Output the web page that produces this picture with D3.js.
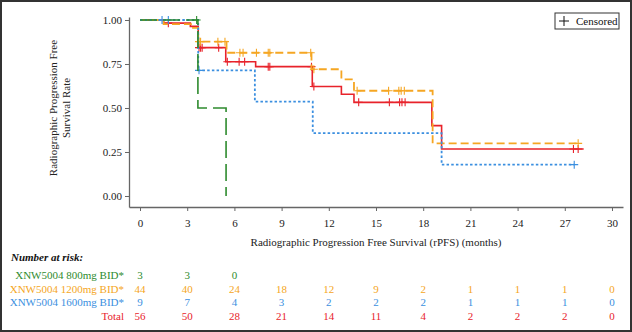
<!DOCTYPE html>
<html>
<head>
<meta charset="utf-8">
<script src="https://cdn.jsdelivr.net/npm/d3@7"></script>
<style>
  html, body { margin: 0; padding: 0; background: #fff; }
  svg { display: block; }
  svg text { font-family: "Liberation Serif", "Times New Roman", serif; }
</style>
</head>
<body>
<div id="km"></div>
<script>
// time grid (months) used for axis ticks and the at-risk table
const months = [0, 3, 6, 9, 12, 15, 18, 21, 24, 27, 30];
const yTicks = [0, 0.25, 0.5, 0.75, 1];

const groupNames = ["XNW5004 800mg BID*", "XNW5004 1200mg BID*", "XNW5004 1600mg BID*", "Total"];
const groupColors = ["#2e8b2e", "#f5a623", "#3b8fe0", "#e8232b"];

// KM steps: [month, survival] at each drop, last entry = end of follow-up
const steps800 = [[0, 1], [3.68, 0.5], [5.47, 0]];
const steps1200 = [[0, 1], [1.5, 0.977], [3.24, 0.955], [3.7, 0.877], [5.5, 0.814], [10.9, 0.72],
  [12.8, 0.663], [13.6, 0.598], [18.6, 0.299], [28.0, 0.299]];
const steps1600 = [[0, 1], [3.7, 0.714], [7.3, 0.536], [10.98, 0.357], [19.17, 0.178], [27.6, 0.178]];
const stepsTotal = [[0, 1], [1.5, 0.982], [3.2, 0.964], [3.7, 0.843], [5.45, 0.763], [7.35, 0.735],
  [10.95, 0.622], [12.8, 0.578], [13.6, 0.532], [18.55, 0.40], [19.17, 0.267], [28.2, 0.267]];

// censored observations: [month, survival]
const cens800 = [[3.6, 1]];
const cens1200 = [[3.75, 0.877], [3.85, 0.877], [4.95, 0.877], [5.4, 0.877], [6.35, 0.814], [6.55, 0.814],
  [7.4, 0.814], [8.15, 0.814], [8.25, 0.814], [10.85, 0.814], [11.05, 0.72], [13.8, 0.598],
  [15.8, 0.598], [16.45, 0.598], [16.6, 0.598], [16.8, 0.598], [27.85, 0.299]];
const cens1600 = [[1.4, 1], [1.8, 1], [3.75, 0.714], [27.6, 0.178]];
const censTotal = [[1.8, 0.982], [3.75, 0.843], [3.85, 0.843], [3.95, 0.843], [5.0, 0.843], [5.55, 0.763],
  [6.3, 0.763], [6.65, 0.763], [8.15, 0.735], [8.25, 0.735], [10.9, 0.735], [11.05, 0.622],
  [13.9, 0.532], [15.85, 0.532], [16.5, 0.532], [16.65, 0.532], [16.85, 0.532], [27.55, 0.267], [27.85, 0.267]];

// number at risk per group at each tick in `months`
const risk800 = [3, 3, 0];
const risk1200 = [44, 40, 24, 18, 12, 9, 2, 1, 1, 1, 0];
const risk1600 = [9, 7, 4, 3, 2, 2, 2, 1, 1, 1, 0];
const riskTotal = [56, 50, 28, 21, 14, 11, 4, 2, 2, 2, 0];

const W = 632, H = 332;
const FONT = "'Liberation Serif', 'Times New Roman', serif";
const svg = d3.select("#km").append("svg").attr("width", W).attr("height", H);

svg.append("rect").attr("x", 1).attr("y", 1).attr("width", W - 2).attr("height", H - 2)
  .attr("fill", "#fff").attr("stroke", "#333").attr("stroke-width", 2);

const x = d3.scaleLinear().domain([-0.7, 30.7]).range([129, 623]);
const y = d3.scaleLinear().domain([-0.0625, 1.017]).range([207, 17]);

const xAxis = svg.append("g").attr("transform", "translate(0,207)")
  .call(d3.axisBottom(x).tickValues(months).tickSize(4).tickSizeOuter(0).tickFormat(d3.format("d")));
const yAxis = svg.append("g").attr("transform", "translate(129,0)")
  .call(d3.axisLeft(y).tickValues(yTicks).tickSize(4).tickSizeOuter(0).tickFormat(d3.format(".2f")));
[xAxis, yAxis].forEach(g => {
  g.attr("font-family", FONT);
  g.select(".domain").attr("stroke", "#666").attr("stroke-width", 1.3);
  g.selectAll(".tick line").attr("stroke", "#666");
  g.selectAll(".tick text").attr("fill", "#222").style("font-size", "11px");
});
xAxis.selectAll(".tick text").attr("dy", "1.15em");
yAxis.selectAll(".tick text").attr("x", -7);

svg.append("text").attr("x", 376).attr("y", 246).attr("text-anchor", "middle")
  .style("font-size", "11px").attr("fill", "#222")
  .text("Radiographic Progression Free Survival (rPFS) (months)");

const yLab = svg.append("text").attr("transform", "translate(57,108) rotate(-90)")
  .attr("text-anchor", "middle").style("font-size", "11px").attr("fill", "#222");
yLab.append("tspan").attr("x", 0).attr("dy", 0).text("Radiographic Progression Free");
yLab.append("tspan").attr("x", 0).attr("dy", 13).text("Survival Rate");

const line = d3.line().x(d => x(d[0])).y(d => y(d[1])).curve(d3.curveStepAfter);

// drawn bottom to top: total under the dose groups
const series = [
  { steps: stepsTotal, cens: censTotal, color: groupColors[3], dash: null, w: 1.6 },
  { steps: steps1200, cens: cens1200, color: groupColors[1], dash: "8,4", w: 1.8 },
  { steps: steps1600, cens: cens1600, color: groupColors[2], dash: "2.5,2.2", w: 1.8 },
  { steps: steps800, cens: cens800, color: groupColors[0], dash: "17,6", w: 1.6 }
];

const plot = svg.append("g");
series.forEach(s => {
  plot.append("path").datum(s.steps)
    .attr("d", line).attr("fill", "none")
    .attr("stroke", s.color).attr("stroke-width", s.w)
    .attr("stroke-dasharray", s.dash);
  plot.selectAll(null).data(s.cens).join("path")
    .attr("d", d => `M${x(d[0]) - 4},${y(d[1])}h8M${x(d[0])},${y(d[1]) - 4}v8`)
    .attr("stroke", s.color).attr("stroke-width", 1.1).attr("fill", "none");
});

// legend
const leg = svg.append("g").attr("transform", "translate(555,13)");
leg.append("rect").attr("width", 64).attr("height", 16).attr("fill", "#fff")
  .attr("stroke", "#333").attr("stroke-width", 1);
leg.append("path").attr("d", "M4,8h10M9,3v10").attr("stroke", "#111").attr("stroke-width", 1);
leg.append("text").attr("x", 21).attr("y", 12).style("font-size", "11px").attr("fill", "#111").text("Censored");

// number at risk table
svg.append("text").attr("x", 11).attr("y", 261)
  .style("font-size", "11px").style("font-weight", "bold").style("font-style", "italic")
  .attr("fill", "#111").text("Number at risk:");

const riskRows = [risk800, risk1200, risk1600, riskTotal];
const rowY = d3.scalePoint().domain(d3.range(4)).range([279, 320]);
riskRows.forEach((vals, i) => {
  svg.append("text").attr("x", 124).attr("y", rowY(i)).attr("text-anchor", "end")
    .style("font-size", "11px").attr("fill", groupColors[i]).text(groupNames[i]);
  svg.selectAll(null).data(vals).join("text")
    .attr("x", (d, j) => x(months[j])).attr("y", rowY(i)).attr("text-anchor", "middle")
    .style("font-size", "11px").attr("fill", groupColors[i]).text(d => d);
});
</script>
</body>
</html>
